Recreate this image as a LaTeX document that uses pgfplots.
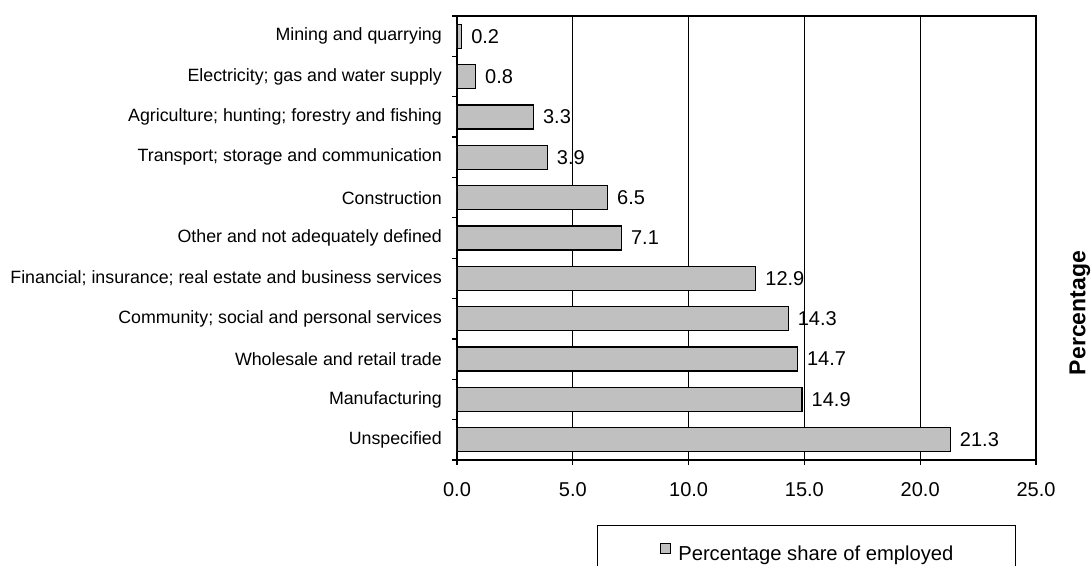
\documentclass[border=0pt]{standalone}
\usepackage{pgfplots}
\pgfplotsset{compat=1.18}
\usepackage{fontspec}
\setmainfont{Liberation Sans}
\definecolor{barfill}{RGB}{192,192,192}

\begin{document}
\begin{tikzpicture}
\path[use as bounding box] (0pt,0pt) rectangle (1092pt,-565pt);
\begin{axis}[
    at={(457pt,-460pt)}, anchor=south west,
    scale only axis, width=579pt, height=444pt,
    xbar, bar width=24pt,
    xmin=0, xmax=25, ymin=-0.5, ymax=10.5,
    axis line style={black, line width=1.4pt},
    tick align=outside, xtick pos=bottom, ytick pos=left,
    major tick length=5pt,
    tick style={black, line width=1.3pt},
    xtick={0,5,10,15,20,25},
    xticklabel style={font=\fontsize{20}{22}\selectfont, inner sep=0pt, yshift=-17pt},
    /pgf/number format/.cd, fixed, fixed zerofill, precision=1, assume math mode=true,
    /pgfplots/.cd,
    xmajorgrids, grid style={black, line width=1pt},
    ytick={-0.5,0.5,...,10.5}, yticklabels={},
    extra y ticks={0,1,2,3,4,5,6,7,8,9,10},
    extra y tick labels={Unspecified, Manufacturing, Wholesale and retail trade,
        Community; social and personal services,
        Financial; insurance; real estate and business services,
        Other and not adequately defined, Construction,
        Transport; storage and communication,
        Agriculture; hunting; forestry and fishing,
        Electricity; gas and water supply, Mining and quarrying},
    extra y tick style={tick style={draw=none},
        yticklabel style={font=\fontsize{17.8}{20}\selectfont, inner sep=0pt, xshift=-10pt}},
    nodes near coords={\pgfmathprintnumber[fixed,fixed zerofill,precision=1]{\pgfplotspointmeta}},
    every node near coord/.append style={font=\fontsize{20}{22}\selectfont, anchor=west,
        inner sep=0pt, xshift=9pt, black},
    ylabel={\textbf{Percentage}},
    ylabel style={at={(axis description cs:1.076,0.331)}, anchor=center,
        font=\fontsize{23}{25}\selectfont},
    legend style={at={(axis description cs:0.2418,-0.1464)}, anchor=north west,
        draw=black, line width=1pt, inner xsep=62pt, inner ysep=17pt,
        nodes={inner sep=0pt}, font=\fontsize{20.2}{22}\selectfont},
    legend cell align=left,
    /tikz/every odd column/.append style={column sep=8pt},
    legend image code/.code={\draw[fill=barfill, draw=black, line width=0.8pt] (0pt,1pt) rectangle (10pt,11pt);},
]
\addplot[fill=barfill, draw=black, line width=1.3pt] coordinates {
    (21.3,0) (14.9,1) (14.7,2) (14.3,3) (12.9,4) (7.1,5)
    (6.5,6) (3.9,7) (3.3,8) (0.8,9) (0.2,10)
};
\addlegendentry{Percentage share of employed}
\end{axis}
\end{tikzpicture}
\end{document}
